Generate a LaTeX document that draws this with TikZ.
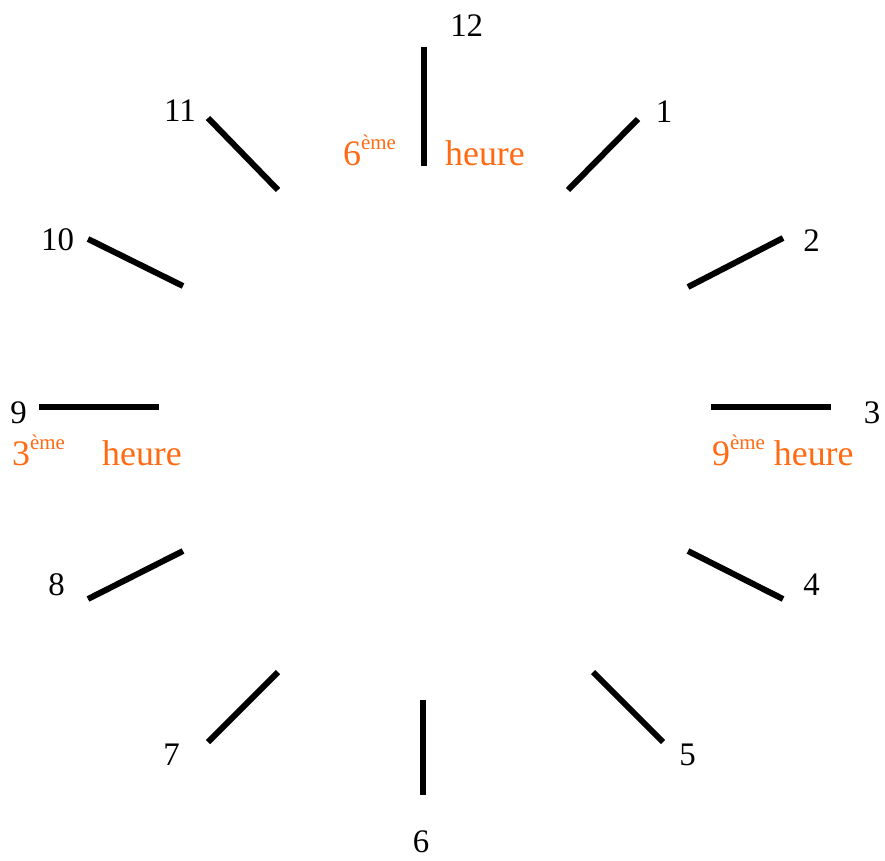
\documentclass[tikz,border=0pt]{standalone}
\usepackage{fontspec}
\setmainfont{Liberation Serif}
\usepackage{tikz}
\usetikzlibrary{positioning}
\usepackage{xcolor}
\definecolor{heureorange}{HTML}{FF6A13}
\tikzset{
  numeral/.style={anchor=base,inner sep=0pt,font=\fontsize{33}{33}\selectfont},
  rang/.style={anchor=base west,inner sep=0pt,text=heureorange,font=\fontsize{36}{36}\selectfont},
  trait/.style={draw=black,line width=6bp}
}
\newcommand{\eme}{\raisebox{16bp}{\fontsize{21}{21}\selectfont ème}}

\begin{document}
\begin{tikzpicture}[x=1bp,y=-1bp]
  \useasboundingbox (0,0) rectangle (885,861);
  % graduations
  \draw[trait] (423.5,47) -- (423.5,166);
  \draw[trait] (568,190) -- (638,119);
  \draw[trait] (688,287) -- (783,238);
  \draw[trait] (711,406.5) -- (831,406.5);
  \draw[trait] (688,551) -- (783,599);
  \draw[trait] (593,672) -- (663,742);
  \draw[trait] (423,700) -- (423,795);
  \draw[trait] (208,742) -- (278,672);
  \draw[trait] (88,599) -- (183,551);
  \draw[trait] (39,406.5) -- (159,406.5);
  \draw[trait] (88,239) -- (183,286);
  \draw[trait] (208,118) -- (278,190);
  % chiffres
  \foreach \n/\x/\y in {12/466.7/36,1/664/122,2/811.5/251,3/872/423,
      4/811.5/595,5/687.5/765,6/421/852,7/171.5/765,8/56.5/595,
      9/18.5/423,10/57.5/250,11/180/121}
    \node[numeral] (h\n) at (\x,\y) {\n};
  % heures
  \node[rang] (six) at (343,165) {6\eme};
  \node[rang] (sixh) at (445,165) {heure};
  \node[rang] (trois) at (12,465) {3\eme};
  \node[rang] (troish) at (102,465) {heure};
  \node[rang] (neuf) at (712,465) {9\eme{} heure};
\end{tikzpicture}
\end{document}
